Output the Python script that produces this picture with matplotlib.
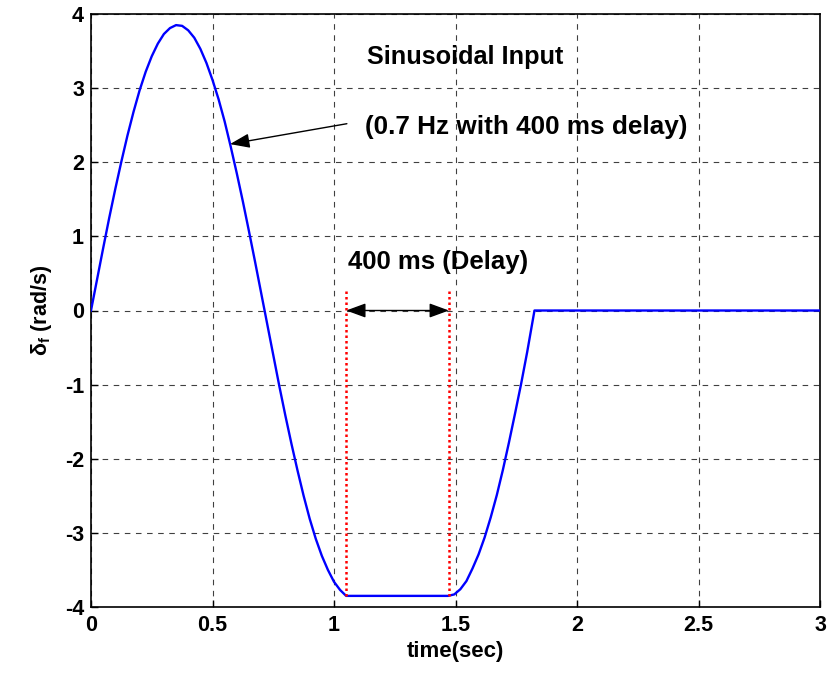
import numpy as np
import matplotlib
matplotlib.use("Agg")
import matplotlib.pyplot as plt

plt.rcParams["font.family"] = ["Liberation Sans", "DejaVu Sans"]
plt.rcParams["font.weight"] = "bold"
plt.rcParams["axes.unicode_minus"] = False
plt.rcParams["mathtext.fontset"] = "custom"
plt.rcParams["mathtext.rm"] = "Liberation Sans"
plt.rcParams["mathtext.bf"] = "Liberation Sans:bold"

### Data ###
time = [0.0, 0.025, 0.05, 0.075, 0.10, 0.125, 0.15, 0.175, 0.20, 0.225, 0.25,
        0.275, 0.30, 0.325, 0.35, 0.375, 0.40, 0.425, 0.45, 0.475, 0.50,
        0.525, 0.55, 0.575, 0.60, 0.625, 0.65, 0.675, 0.70, 0.725, 0.75,
        0.775, 0.80, 0.825, 0.85, 0.875, 0.90, 0.925, 0.95, 0.975, 1.00,
        1.025, 1.05, 1.47, 1.495, 1.52, 1.545, 1.57, 1.595, 1.62, 1.645,
        1.67, 1.695, 1.72, 1.745, 1.77, 1.795, 1.825, 3.0]
delta_f = [0.0, 0.42, 0.84, 1.25, 1.64, 2.01, 2.36, 2.68, 2.97, 3.22, 3.43,
           3.60, 3.73, 3.81, 3.85, 3.84, 3.78, 3.68, 3.53, 3.34, 3.11,
           2.85, 2.55, 2.21, 1.85, 1.47, 1.07, 0.66, 0.24, -0.18, -0.60,
           -1.02, -1.42, -1.80, -2.16, -2.50, -2.81, -3.08, -3.31, -3.50, -3.66,
           -3.77, -3.85, -3.85, -3.83, -3.76, -3.65, -3.48, -3.29, -3.06, -2.79,
           -2.49, -2.15, -1.78, -1.39, -0.99, -0.56, 0.0, 0.0]

delay_start = 1.05
delay_end = 1.473
delay_top = 0.28
trough = -3.85

xticks = [0, 0.5, 1, 1.5, 2, 2.5, 3]
xticklabels = ["0", "0.5", "1", "1.5", "2", "2.5", "3"]
yticks = [-4, -3, -2, -1, 0, 1, 2, 3, 4]

### Plot ###
fig = plt.figure(figsize=(8.35, 6.73), dpi=100)
ax = fig.add_axes([91/835, 1-607/673, 729/835, 593/673])

ax.plot(time, delta_f, color="#0000ff", linewidth=1.7, zorder=3)

ax.vlines([delay_start, delay_end], trough, delay_top, colors="red",
          linestyles=(0, (1, 1.2)), linewidth=1.8, zorder=4)
ax.annotate("", xy=(delay_start, 0), xytext=(delay_end, 0),
            arrowprops=dict(arrowstyle="<|-|>,head_length=0.6,head_width=0.22",
                            color="black", lw=1, mutation_scale=20,
                            shrinkA=0, shrinkB=0), zorder=5)
ax.text(1.058, 0.65, "400 ms (Delay)", fontsize=18.5, fontweight="bold", va="center", ha="left")

ax.text(1.136, 3.42, "Sinusoidal Input", fontsize=18.2, fontweight="bold", va="center", ha="left")
ax.text(1.128, 2.47, "(0.7 Hz with 400 ms delay)", fontsize=18.8, fontweight="bold", va="center", ha="left")
ax.annotate("", xy=(0.572, 2.245), xytext=(1.053, 2.52),
            arrowprops=dict(arrowstyle="-|>,head_length=0.6,head_width=0.22",
                            color="black", lw=1, mutation_scale=20,
                            shrinkA=0, shrinkB=0))

ax.set_xlim(0, 3)
ax.set_ylim(-4, 4)
ax.set_xticks(xticks)
ax.set_xticklabels(xticklabels)
ax.set_yticks(yticks)
ax.tick_params(direction="in", length=5, labelsize=15.5, width=1)
ax.tick_params(axis="x", pad=6)
ax.tick_params(axis="y", pad=5)
for lbl in ax.get_xticklabels() + ax.get_yticklabels():
    lbl.set_fontweight("bold")

ax.grid(True, color="black", linestyle=(0, (5, 5)), linewidth=0.8, alpha=0.75)
for sp in ax.spines.values():
    sp.set_linewidth(1.2)

ax.set_xlabel("time(sec)", fontsize=16, fontweight="bold", labelpad=3)
ax.set_ylabel("\u03b4$_\\mathbf{f}$ (rad/s)", fontsize=15.5, fontweight="bold", labelpad=8)

fig.savefig("out.png", dpi=100)
